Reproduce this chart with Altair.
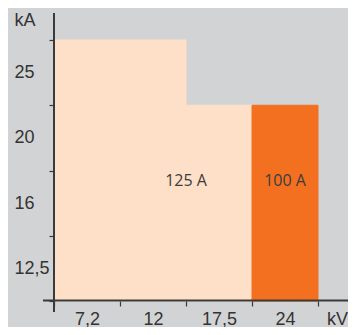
import altair as alt
import pandas as pd

# --- data ---
kv_labels = ["7,2", "12", "17,5", "24"]          # rated voltage (kV)
ka_labels = ["12,5", "16", "20", "25"]           # short-time current (kA), bottom -> top
max_ka = ["25", "25", "20", "20"]                # highest kA reached per kV column
current = ["125 A", "125 A", "125 A", "100 A"]   # rated current per kV column
current_names = ["125 A", "100 A"]
current_colors = ["#fee0c8", "#f37021"]

# region labels
label_text = ["125 A", "100 A"]
label_kv = ["17,5", "24"]
label_ka = ["16", "16"]

rows = []
for kv, top, cur in zip(kv_labels, max_ka, current):
    for ka in ka_labels[: ka_labels.index(top) + 1]:
        rows.append({"kV": kv, "kA": ka, "current": cur})
cells = pd.DataFrame(rows)
labels = pd.DataFrame({"text": label_text, "kV": label_kv, "kA": label_ka})

AXIS = "#3a3a3a"
TXT = "#333333"
FONT = "Liberation Sans"

W, H = 264, 261

xscale = alt.Scale(domain=kv_labels, paddingInner=0, paddingOuter=0)
yscale = alt.Scale(domain=ka_labels[::-1], paddingInner=0, paddingOuter=0)
cscale = alt.Scale(domain=current_names, range=current_colors)

xaxis = alt.Axis(
    title="kV", domain=False, grid=False, tickBand="extent",
    tickColor=AXIS, tickSize=5, tickWidth=1.2,
    labelFont=FONT, labelFontSize=18, labelColor=TXT,
    labelBaseline="alphabetic", labelPadding=18, labelAngle=0,
    titleFont=FONT, titleFontSize=18, titleFontWeight="normal", titleColor=TXT,
    titleX=283, titleY=23, titleAlign="center", titleBaseline="alphabetic", titleAngle=0,
)
yaxis = alt.Axis(
    title="kA", domain=False, grid=False, tickBand="extent",
    tickColor=AXIS, tickSize=5, tickWidth=1.2,
    labelFont=FONT, labelFontSize=18, labelColor=TXT,
    labelAlign="left", labelBaseline="middle", labelPadding=35,
    titleFont=FONT, titleFontSize=18, titleFontWeight="normal", titleColor=TXT,
    titleX=-40, titleY=-20, titleAlign="left", titleBaseline="middle", titleAngle=0,
)

rects = alt.Chart(cells).mark_rect(strokeWidth=1).encode(
    x=alt.X("kV:N", scale=xscale, axis=xaxis),
    y=alt.Y("kA:N", scale=yscale, axis=yaxis),
    color=alt.Color("current:N", scale=cscale, legend=None),
    stroke=alt.Stroke("current:N", scale=cscale, legend=None),
)

text_125 = alt.Chart(labels).transform_filter(alt.datum.text == "125 A").mark_text(
    font="Open Sans", fontSize=16, color="#3c3c3c", baseline="middle", align="center"
).encode(
    x=alt.X("kV:N", scale=xscale, bandPosition=0),
    y=alt.Y("kA:N", scale=yscale, bandPosition=0.16),
    text="text:N",
)
text_100 = alt.Chart(labels).transform_filter(alt.datum.text == "100 A").mark_text(
    font="Open Sans", fontSize=16, color="#3c3c3c", baseline="middle", align="center"
).encode(
    x=alt.X("kV:N", scale=xscale, bandPosition=0.5),
    y=alt.Y("kA:N", scale=yscale, bandPosition=0.16),
    text="text:N",
)

# axis lines (extended beyond the plot like the reference)
yline = alt.Chart(pd.DataFrame({"a": [0]})).mark_rule(color=AXIS, strokeWidth=2).encode(
    x=alt.value(0), y=alt.value(-27), y2=alt.value(H + 11)
)
xline = alt.Chart(pd.DataFrame({"a": [0]})).mark_rule(color=AXIS, strokeWidth=2).encode(
    y=alt.value(H - 0.5), x=alt.value(-11), x2=alt.value(W + 30)
)

chart = alt.layer(rects, text_125, text_100, xline, yline).properties(
    width=W, height=H,
    autosize=alt.AutoSizeParams(type="none"),
    padding={"left": 46, "top": 32, "right": 30, "bottom": 26},
    background="#d1d3d4",
).configure_view(stroke=None)

chart.save("out.html", embed_options={"renderer": "svg", "actions": False})
